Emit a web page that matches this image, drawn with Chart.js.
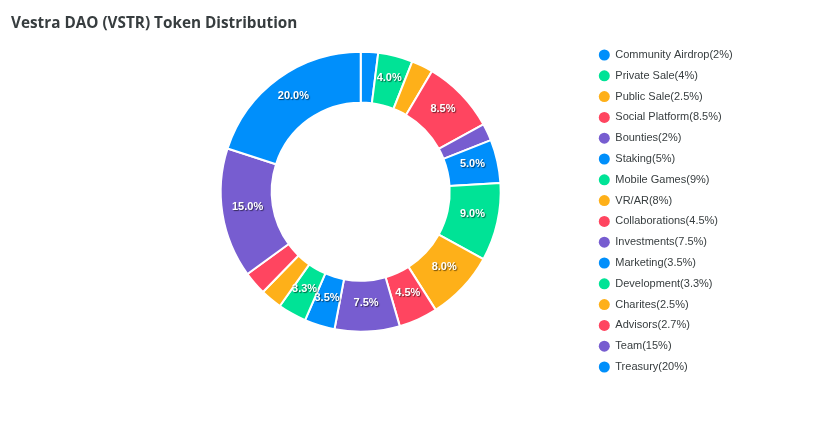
<!DOCTYPE html>
<html><head><meta charset="utf-8">
<script src="https://cdn.jsdelivr.net/npm/chart.js@4/dist/chart.umd.min.js"></script>
<style>
html,body{margin:0;padding:0;background:#fff;}
#wrap{position:relative;width:832px;height:426px;overflow:hidden;}
#title{position:absolute;left:11px;top:13px;font-family:"Open Sans",Lato,sans-serif;font-weight:bold;font-size:15.3px;line-height:18px;color:#373d3f;white-space:nowrap;}
canvas{position:absolute;left:0;top:0;}
</style></head><body>
<div id="wrap"><canvas id="c" width="832" height="426"></canvas><div id="title">Vestra DAO (VSTR) Token Distribution</div></div>
<script>
const categories = ['Community Airdrop','Private Sale','Public Sale','Social Platform','Bounties','Staking','Mobile Games','VR/AR','Collaborations','Investments','Marketing','Development','Charites','Advisors','Team','Treasury'];
const values = [2, 4, 2.5, 8.5, 2, 5, 9, 8, 4.5, 7.5, 3.5, 3.3, 2.5, 2.7, 15, 20];
const palette = ['#008FFB','#00E396','#FEB019','#FF4560','#775DD0'];

const legendTexts = categories.map((c, i) => c + '(' + values[i] + '%)');
const sliceColors = categories.map((c, i) => palette[i % palette.length]);
const total = values.reduce((a, b) => a + b, 0);

// legend geometry: measure widest label so the legend starts where the reference's does
const LEGEND_FONT = { family: '"Liberation Sans", Arial, sans-serif', size: 11 };
const LEG_PAD = 9.8, LEG_BOX = 11;
const mctx = document.createElement('canvas').getContext('2d');
mctx.font = 'normal ' + LEGEND_FONT.size + 'px ' + LEGEND_FONT.family;
const maxTextW = Math.max(...legendTexts.map(t => mctx.measureText(t).width));
const legendW = LEG_PAD + LEG_BOX + LEGEND_FONT.size / 2 + maxTextW + 10;
const legendLeft = 589, centerX = 360.7;
const padLeft = 2 * centerX - legendLeft;
const padRight = 832 - legendLeft - legendW;

const pctLabels = {
  id: 'pctLabels',
  afterDatasetsDraw(chart) {
    const ctx = chart.ctx;
    const meta = chart.getDatasetMeta(0);
    ctx.save();
    ctx.font = 'bold 11px "Liberation Sans", Arial, sans-serif';
    ctx.textAlign = 'center';
    ctx.textBaseline = 'middle';
    meta.data.forEach((arc, i) => {
      const pct = values[i] / total * 100;
      if (pct * 3.6 < 10) return;
      const p = arc.tooltipPosition();
      ctx.shadowColor = 'rgba(0,0,0,0.55)';
      ctx.shadowOffsetX = 1; ctx.shadowOffsetY = 1; ctx.shadowBlur = 1;
      ctx.fillStyle = '#fff';
      ctx.fillText(pct.toFixed(1) + '%', p.x, p.y - 3);
    });
    ctx.restore();
  }
};

new Chart(document.getElementById('c'), {
  type: 'doughnut',
  data: {
    labels: legendTexts,
    datasets: [{
      data: values,
      backgroundColor: sliceColors,
      borderColor: '#fff',
      borderWidth: 2,
      hoverOffset: 0
    }]
  },
  options: {
    responsive: false,
    animation: false,
    radius: 140,
    cutout: '63.6%',
    layout: { padding: { left: padLeft, right: padRight, top: 0, bottom: 42.6 } },
    plugins: {
      tooltip: { enabled: false },
      title: { display: false },
      legend: {
        position: 'right',
        align: 'start',
        title: { display: true, text: '', font: { size: 12 }, padding: { top: 25.3, bottom: 0 } },
        labels: {
          font: LEGEND_FONT,
          color: '#373d3f',
          boxWidth: LEG_BOX,
          boxHeight: LEG_BOX,
          padding: LEG_PAD,
          generateLabels() {
            return legendTexts.map((t, i) => ({
              text: t,
              fillStyle: sliceColors[i],
              strokeStyle: sliceColors[i],
              lineWidth: 0,
              borderRadius: 5.5,
              fontColor: '#373d3f',
              hidden: false,
              index: i
            }));
          }
        }
      }
    }
  },
  plugins: [pctLabels]
});
</script>
</body></html>
